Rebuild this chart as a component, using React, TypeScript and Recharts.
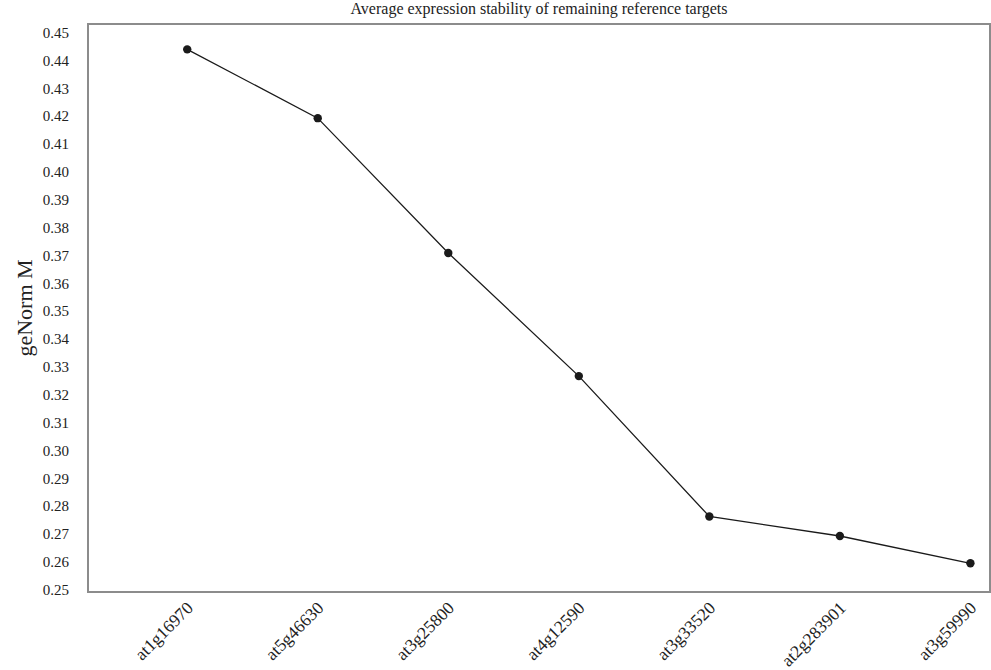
import React from 'react';
import { LineChart, Line, XAxis, YAxis, ReferenceArea } from 'recharts';

const genes = ['at1g16970', 'at5g46630', 'at3g25800', 'at4g12590', 'at3g33520', 'at2g283901', 'at3g59990'];
const geNormM = [0.4441, 0.4194, 0.371, 0.3268, 0.2764, 0.2694, 0.2596];
const yTicks = [0.25, 0.26, 0.27, 0.28, 0.29, 0.3, 0.31, 0.32, 0.33, 0.34, 0.35, 0.36, 0.37, 0.38, 0.39, 0.4, 0.41, 0.42, 0.43, 0.44, 0.45];
const xTicks = [0, 1, 2, 3, 4, 5, 6];

const X_DOMAIN: [number, number] = [-0.76, 6.15];
const Y_DOMAIN: [number, number] = [0.2493, 0.4532];

const FONT = 'Liberation Serif, DejaVu Serif, serif';

const data = genes.map((g, i) => ({ idx: i, gene: g, m: geNormM[i] }));

function GeneTick({ x, y, payload }: any) {
  const ax = x + 7;
  const ay = y + 9;
  return (
    <text
      x={ax}
      y={ay}
      transform={`rotate(-45, ${ax}, ${ay})`}
      textAnchor="end"
      fontFamily={FONT}
      fontSize={17.5}
      fill="#222"
    >
      {genes[payload.value]}
    </text>
  );
}

function ValueTick({ x, y, payload }: any) {
  return (
    <text x={x - 11} y={y} dy={5} textAnchor="end" fontFamily={FONT} fontSize={15} fill="#222">
      {Number(payload.value).toFixed(2)}
    </text>
  );
}

export default function App() {
  return (
    <div style={{ position: 'absolute', left: 0, top: 0, width: 991, height: 670, background: '#fff' }}>
      <div
        style={{
          position: 'absolute',
          top: 0,
          left: 88,
          width: 902,
          textAlign: 'center',
          fontFamily: FONT,
          fontSize: 16,
          lineHeight: '18px',
          color: '#222',
        }}
      >
        Average expression stability of remaining reference targets
      </div>
      <LineChart width={991} height={670} data={data} margin={{ top: 24, right: 1, bottom: 0, left: 0 }}>
        <ReferenceArea
          x1={X_DOMAIN[0]}
          x2={X_DOMAIN[1]}
          y1={Y_DOMAIN[0]}
          y2={Y_DOMAIN[1]}
          fill="none"
          stroke="#8c8c8c"
          strokeWidth={2}
          ifOverflow="visible"
        />
        <XAxis
          dataKey="idx"
          type="number"
          domain={X_DOMAIN}
          ticks={xTicks}
          allowDataOverflow
          height={78}
          axisLine={false}
          tickLine={false}
          tick={<GeneTick />}
          interval={0}
        />
        <YAxis
          type="number"
          domain={Y_DOMAIN}
          ticks={yTicks}
          allowDataOverflow
          width={88}
          axisLine={false}
          tickLine={false}
          interval={0}
          tick={<ValueTick />}
          label={{
            value: 'geNorm M',
            angle: -90,
            position: 'insideLeft',
            offset: 24,
            style: { fontFamily: FONT, fontSize: 22, fill: '#222', textAnchor: 'middle' },
          }}
        />
        <Line
          type="linear"
          dataKey="m"
          stroke="#1a1a1a"
          strokeWidth={1.3}
          dot={{ r: 4.2, fill: '#1a1a1a', stroke: '#1a1a1a', strokeWidth: 0 }}
          isAnimationActive={false}
        />
      </LineChart>
    </div>
  );
}
